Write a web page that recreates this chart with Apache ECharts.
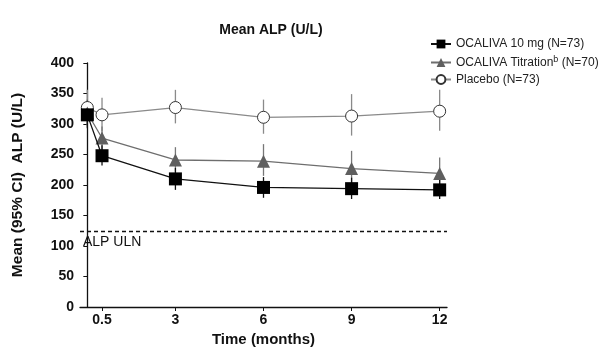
<!DOCTYPE html>
<html lang="en">
<head>
  <meta charset="UTF-8">
  <script src="https://cdn.jsdelivr.net/npm/echarts@6/dist/echarts.min.js"></script>
  <style>
    body { margin: 0; background: #fff; }
    #container { width: 608px; height: 353px; }
  </style>
</head>
<body>
  <div id="container"></div>
  <script>
    // months of visit (0 = baseline)
    var months = [0, 0.5, 3, 6, 9, 12];
    var tickMonths = [0.5, 3, 6, 9, 12];

    var ocaMean = [315, 248, 210, 196, 194, 192];
    var ocaLow = [293, 232, 192, 179, 177, 177];
    var ocaHigh = [338, 265, 228, 213, 212, 210];

    var titMean = [318, 277, 241, 239, 227, 219];
    var titLow = [296, 258, 222, 215, 200, 196];
    var titHigh = [340, 296, 262, 267, 256, 245];

    var plaMean = [327, 315, 327, 311, 313, 321];
    var plaLow = [298, 288, 301, 284, 281, 289];
    var plaHigh = [356, 343, 356, 340, 349, 356];

    var ulnValue = 124;

    var font = 'Liberation Sans, Arial, sans-serif';

    function pts(mean) {
      var res = [];
      for (var i = 0; i < months.length; i++) res.push([months[i], mean[i]]);
      return res;
    }
    function bars(low, high) {
      var res = [];
      for (var i = 0; i < months.length; i++) res.push([months[i], low[i], high[i]]);
      return res;
    }
    // vertical error bar drawn through the axes
    function errSeries(low, high, color) {
      return {
        type: 'custom',
        z: 1,
        silent: true,
        data: bars(low, high),
        renderItem: function (params, api) {
          var a = api.coord([api.value(0), api.value(1)]);
          var b = api.coord([api.value(0), api.value(2)]);
          return {
            type: 'line',
            shape: { x1: a[0], y1: a[1], x2: b[0], y2: b[1] },
            style: { stroke: color, lineWidth: 1.3 }
          };
        }
      };
    }

    var myChart = echarts.init(document.getElementById('container'));
    var option = {
      animation: false,
      textStyle: { fontFamily: font },
      title: {
        text: 'Mean ALP (U/L)',
        left: 266,
        top: 18,
        textAlign: 'center',
        textStyle: { fontSize: 14, fontWeight: 'bold', color: '#111', fontFamily: font }
      },
      legend: {
        orient: 'vertical',
        left: 425,
        top: 33,
        itemGap: 5,
        itemWidth: 20,
        itemHeight: 11,
        data: ['OCALIVA 10 mg (N=73)', 'OCALIVA Titration (N=70)', 'Placebo (N=73)'],
        formatter: function (name) {
          if (name === 'OCALIVA Titration (N=70)') {
            return '{a|OCALIVA Titration}{s|b}{a| (N=70)}';
          }
          return '{a|' + name + '}';
        },
        textStyle: {
          fontSize: 12,
          color: '#222',
          rich: {
            a: { fontSize: 12, color: '#222', fontFamily: font },
            s: { fontSize: 9, color: '#222', fontFamily: font, verticalAlign: 'top', padding: [0, 0, 6, 0] }
          }
        }
      },
      grid: { left: 80, right: 161, top: 63, bottom: 46 },
      xAxis: {
        type: 'value',
        min: -0.25,
        max: 12.25,
        name: 'Time (months)',
        nameLocation: 'middle',
        nameGap: 25,
        nameTextStyle: { fontSize: 15, fontWeight: 'bold', color: '#111' },
        axisLine: { lineStyle: { color: '#111', width: 1.3 } },
        axisTick: { show: true, customValues: tickMonths, length: 4, lineStyle: { color: '#111' } },
        axisLabel: { customValues: tickMonths, fontSize: 14, fontWeight: 'bold', color: '#111', margin: 6 },
        splitLine: { show: false }
      },
      yAxis: {
        type: 'value',
        min: 0,
        max: 400,
        interval: 50,
        name: 'Mean (95% CI)  ALP (U/L)',
        nameLocation: 'middle',
        nameGap: 54,
        nameTextStyle: { fontSize: 15.5, fontWeight: 'bold', color: '#111' },
        axisLine: { show: true, lineStyle: { color: '#111', width: 1.3 } },
        axisTick: { show: true, length: 4, lineStyle: { color: '#111' } },
        axisLabel: { fontSize: 14, fontWeight: 'bold', color: '#111', margin: 6 },
        splitLine: { show: false }
      },
      series: [
        errSeries(plaLow, plaHigh, '#8a8a8a'),
        errSeries(titLow, titHigh, '#777'),
        errSeries(ocaLow, ocaHigh, '#111'),
        {
          name: 'Placebo (N=73)',
          type: 'line',
          z: 3,
          data: pts(plaMean),
          symbol: 'circle',
          symbolSize: 12,
          lineStyle: { color: '#8a8a8a', width: 1.3 },
          itemStyle: { color: '#fff', borderColor: '#333', borderWidth: 1 },
          markLine: {
            silent: true,
            symbol: 'none',
            lineStyle: { color: '#111', type: [4, 3], width: 1.3 },
            label: {
              show: true,
              position: 'insideStartBottom',
              formatter: 'ALP ULN',
              color: '#111',
              fontSize: 14,
              distance: [3, 4]
            },
            data: [{ yAxis: ulnValue }]
          }
        },
        {
          name: 'OCALIVA Titration (N=70)',
          type: 'line',
          z: 4,
          data: pts(titMean),
          symbol: 'triangle',
          symbolSize: 13,
          lineStyle: { color: '#6e6e6e', width: 1.3 },
          itemStyle: { color: '#5f5f5f' }
        },
        {
          name: 'OCALIVA 10 mg (N=73)',
          type: 'line',
          z: 5,
          data: pts(ocaMean),
          symbol: 'rect',
          symbolSize: 13,
          lineStyle: { color: '#111', width: 1.3 },
          itemStyle: { color: '#000' }
        }
      ]
    };
    myChart.setOption(option);
  </script>
</body>
</html>
